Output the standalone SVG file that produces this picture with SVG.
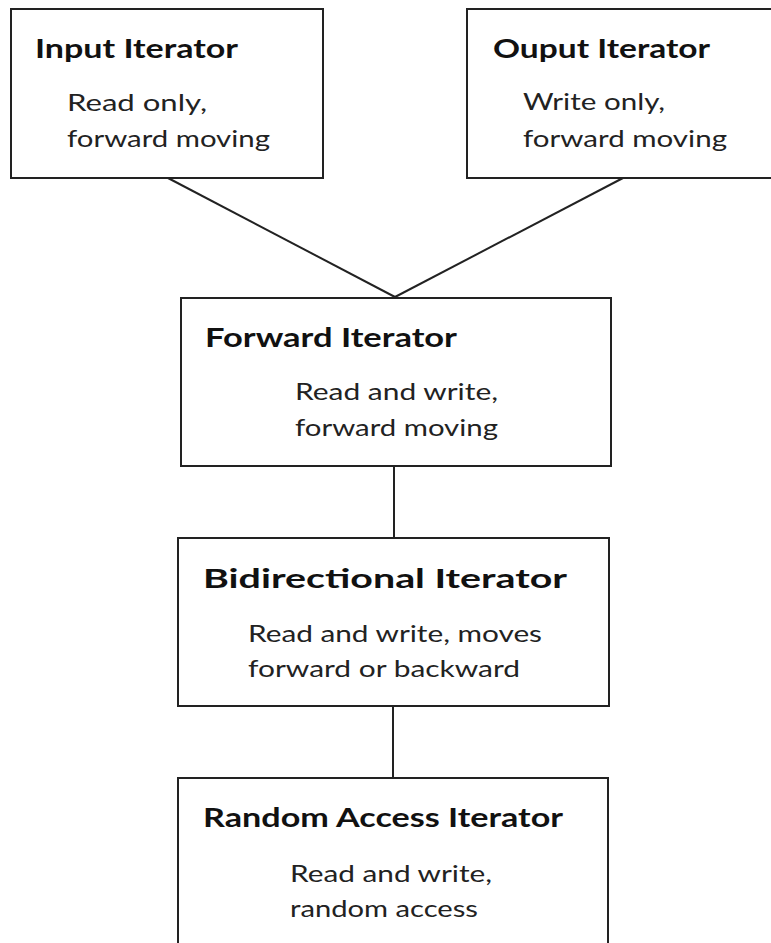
<svg xmlns="http://www.w3.org/2000/svg" width="771" height="943" viewBox="0 0 771 943">
<style>
.box{fill:#fff;stroke:#222;stroke-width:2}
.t{font-family:Lato,"Open Sans","Liberation Sans",sans-serif;font-weight:bold;font-size:26px;fill:#111}
.d{font-family:Lato,"Open Sans","Liberation Sans",sans-serif;font-size:24px;fill:#222}
.c{stroke:#222;stroke-width:2;fill:none}
</style>
<rect width="771" height="943" fill="#fff"/>
<g id="connectors">
<line class="c" x1="168" y1="178" x2="395" y2="297"/>
<line class="c" x1="623" y1="178" x2="395" y2="297"/>
<line class="c" x1="394" y1="466" x2="394" y2="538"/>
<line class="c" x1="393" y1="706" x2="393" y2="778"/>
</g>
<g id="input">
<rect class="box" x="11" y="9" width="312" height="169"/>
<text class="t" x="35" y="58" textLength="203" lengthAdjust="spacingAndGlyphs">Input Iterator</text>
<text class="d" x="67" y="111" textLength="140" lengthAdjust="spacingAndGlyphs">Read only,</text>
<text class="d" x="67" y="147" textLength="203" lengthAdjust="spacingAndGlyphs">forward moving</text>
</g>
<g id="output">
<rect class="box" x="467" y="9" width="312" height="169"/>
<text class="t" x="493" y="58" textLength="217" lengthAdjust="spacingAndGlyphs">Ouput Iterator</text>
<text class="d" x="523" y="110" textLength="142" lengthAdjust="spacingAndGlyphs">Write only,</text>
<text class="d" x="523" y="147" textLength="204" lengthAdjust="spacingAndGlyphs">forward moving</text>
</g>
<g id="forward">
<rect class="box" x="181" y="298" width="430" height="168"/>
<text class="t" x="205" y="347" textLength="252" lengthAdjust="spacingAndGlyphs">Forward Iterator</text>
<text class="d" x="295" y="400" textLength="203" lengthAdjust="spacingAndGlyphs">Read and write,</text>
<text class="d" x="295" y="436" textLength="203" lengthAdjust="spacingAndGlyphs">forward moving</text>
</g>
<g id="bidirectional">
<rect class="box" x="178" y="538" width="431" height="168"/>
<text class="t" x="203" y="588" textLength="364" lengthAdjust="spacingAndGlyphs">Bidirectional  Iterator</text>
<text class="d" x="248" y="642" textLength="294" lengthAdjust="spacingAndGlyphs">Read and write, moves</text>
<text class="d" x="248" y="677" textLength="272" lengthAdjust="spacingAndGlyphs">forward or backward</text>
</g>
<g id="random">
<rect class="box" x="178" y="778" width="430" height="200"/>
<text class="t" x="203" y="827" textLength="360" lengthAdjust="spacingAndGlyphs">Random Access Iterator</text>
<text class="d" x="290" y="882" textLength="202" lengthAdjust="spacingAndGlyphs">Read and write,</text>
<text class="d" x="290" y="917" textLength="188" lengthAdjust="spacingAndGlyphs">random access</text>
</g>
</svg>
